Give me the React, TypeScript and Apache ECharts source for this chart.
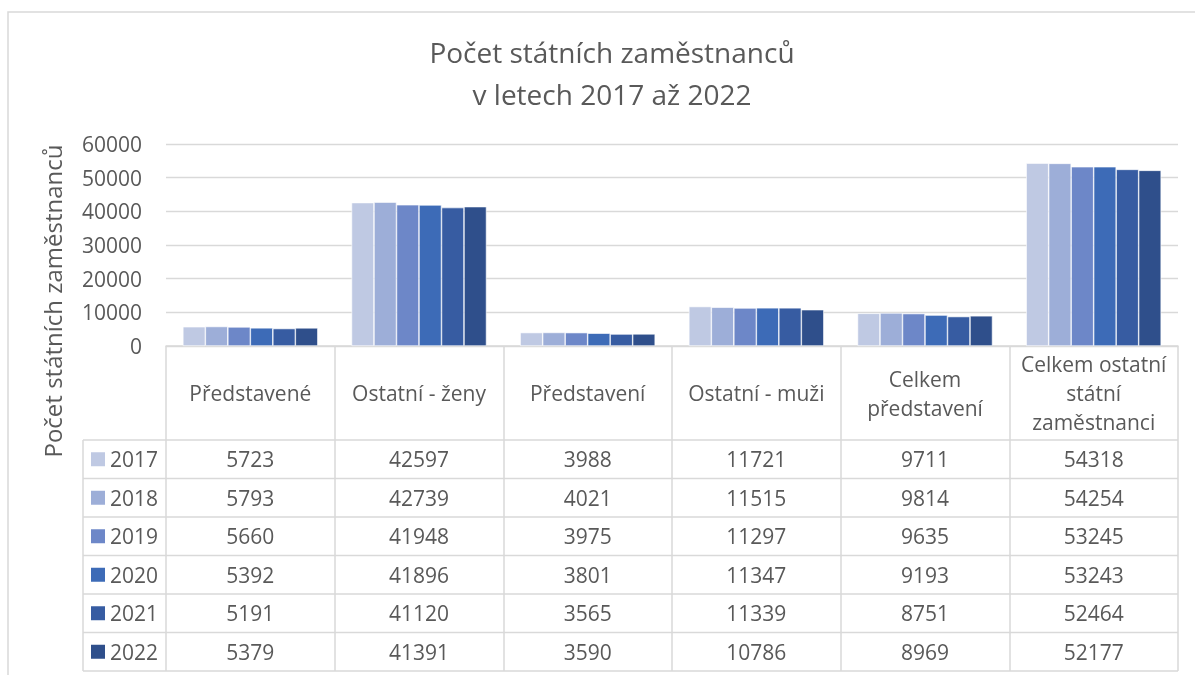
import React, { useEffect, useRef } from "react";
import * as echarts from "echarts";

const categories = [
  "Představené",
  "Ostatní - ženy",
  "Představení",
  "Ostatní - muži",
  "Celkem\npředstavení",
  "Celkem ostatní\nstátní\nzaměstnanci",
];
const years = ["2017", "2018", "2019", "2020", "2021", "2022"];
const v2017 = [5723, 42597, 3988, 11721, 9711, 54318];
const v2018 = [5793, 42739, 4021, 11515, 9814, 54254];
const v2019 = [5660, 41948, 3975, 11297, 9635, 53245];
const v2020 = [5392, 41896, 3801, 11347, 9193, 53243];
const v2021 = [5191, 41120, 3565, 11339, 8751, 52464];
const v2022 = [5379, 41391, 3590, 10786, 8969, 52177];
const seriesValues = [v2017, v2018, v2019, v2020, v2021, v2022];
const colors = ["#BFC9E3", "#9DAED8", "#6D87C8", "#3D6BB7", "#375CA2", "#2F4F8B"];

const FONT = "'Open Sans', 'Noto Sans', sans-serif";
const TEXT = "#595959";
const LINE = "#D9D9D9";

export default function App() {
  const ref = useRef<HTMLDivElement>(null);
  useEffect(() => {
    if (!ref.current) return;
    const chart = echarts.init(ref.current, undefined, { renderer: "svg" });
    const W = 1195;
    const gridLeft = 166;
    const gridRight = 1178;
    const gridTop = 144;
    const axisY = 346;
    const headerBottom = 440;
    const rowH = 38.5;
    const legendLeft = 83;
    const catW = (gridRight - gridLeft) / categories.length;
    const tableBottom = headerBottom + rowH * years.length;

    const graphics: any[] = [];
    graphics.push({
      type: "rect",
      shape: { x: 8, y: 12, width: 1250, height: 720 },
      style: { fill: "none", stroke: LINE, lineWidth: 1.5 },
      silent: true,
    });
    graphics.push({
      type: "text",
      x: 52,
      y: 301,
      rotation: Math.PI / 2,
      style: {
        text: "Počet státních zaměstnanců",
        font: `24px ${FONT}`,
        fill: TEXT,
        align: "center",
        verticalAlign: "middle",
      },
    });
    for (let r = 0; r <= years.length; r++) {
      const y = headerBottom + r * rowH;
      graphics.push({
        type: "line",
        shape: { x1: legendLeft, y1: y, x2: gridRight, y2: y },
        style: { stroke: LINE, lineWidth: 1.5 },
        silent: true,
      });
    }
    graphics.push({
      type: "line",
      shape: { x1: legendLeft, y1: headerBottom, x2: legendLeft, y2: tableBottom },
      style: { stroke: LINE, lineWidth: 1.5 },
      silent: true,
    });
    years.forEach((yr, r) => {
      const cy = headerBottom + (r + 0.5) * rowH;
      graphics.push({
        type: "rect",
        shape: { x: 91, y: cy - 7, width: 14, height: 14 },
        style: { fill: colors[r] },
        silent: true,
      });
      graphics.push({
        type: "text",
        x: 110,
        y: cy,
        style: { text: yr, font: `21px ${FONT}`, fill: TEXT, align: "left", verticalAlign: "middle" },
      });
      seriesValues[r].forEach((v, c) => {
        graphics.push({
          type: "text",
          x: gridLeft + (c + 0.5) * catW,
          y: cy,
          style: { text: String(v), font: `21px ${FONT}`, fill: TEXT, align: "center", verticalAlign: "middle" },
        });
      });
    });

    chart.setOption({
      animation: false,
      title: {
        text: "Počet státních zaměstnanců\nv letech 2017 až 2022",
        left: 607,
        top: 26,
        textAlign: "center",
        textStyle: { fontFamily: FONT, fontSize: 28, fontWeight: "normal", color: TEXT, lineHeight: 42 },
      },
      grid: { left: gridLeft, right: W - gridRight, top: gridTop, bottom: 675 - axisY },
      xAxis: {
        type: "category",
        data: categories,
        axisLine: { show: true, lineStyle: { color: LINE, width: 1.5 } },
        axisTick: { show: true, length: tableBottom - axisY, lineStyle: { color: LINE, width: 1.5 } },
        axisLabel: {
          interval: 0,
          margin: (headerBottom - axisY) / 2,
          verticalAlign: "middle",
          lineHeight: 29,
          fontFamily: FONT,
          fontSize: 21,
          color: TEXT,
          align: "center",
        },
      },
      yAxis: {
        type: "value",
        min: 0,
        max: 60000,
        interval: 10000,
        axisLine: { show: false },
        axisTick: { show: false },
        axisLabel: {
          margin: 24,
          fontFamily: FONT,
          fontSize: 21,
          color: TEXT,
          formatter: (v: number) => String(v),
        },
        splitLine: { lineStyle: { color: LINE, width: 1.3 } },
      },
      series: years.map((yr, i) => ({
        name: yr,
        type: "bar",
        data: seriesValues[i],
        barWidth: 22.5,
        barGap: "0%",
        itemStyle: { color: colors[i], borderColor: "#ffffff", borderWidth: 0.6 },
      })),
      graphic: graphics,
    });
    return () => chart.dispose();
  }, []);
  return <div ref={ref} style={{ position: "fixed", left: 0, top: 0, width: 1195, height: 675 }} />;
}
